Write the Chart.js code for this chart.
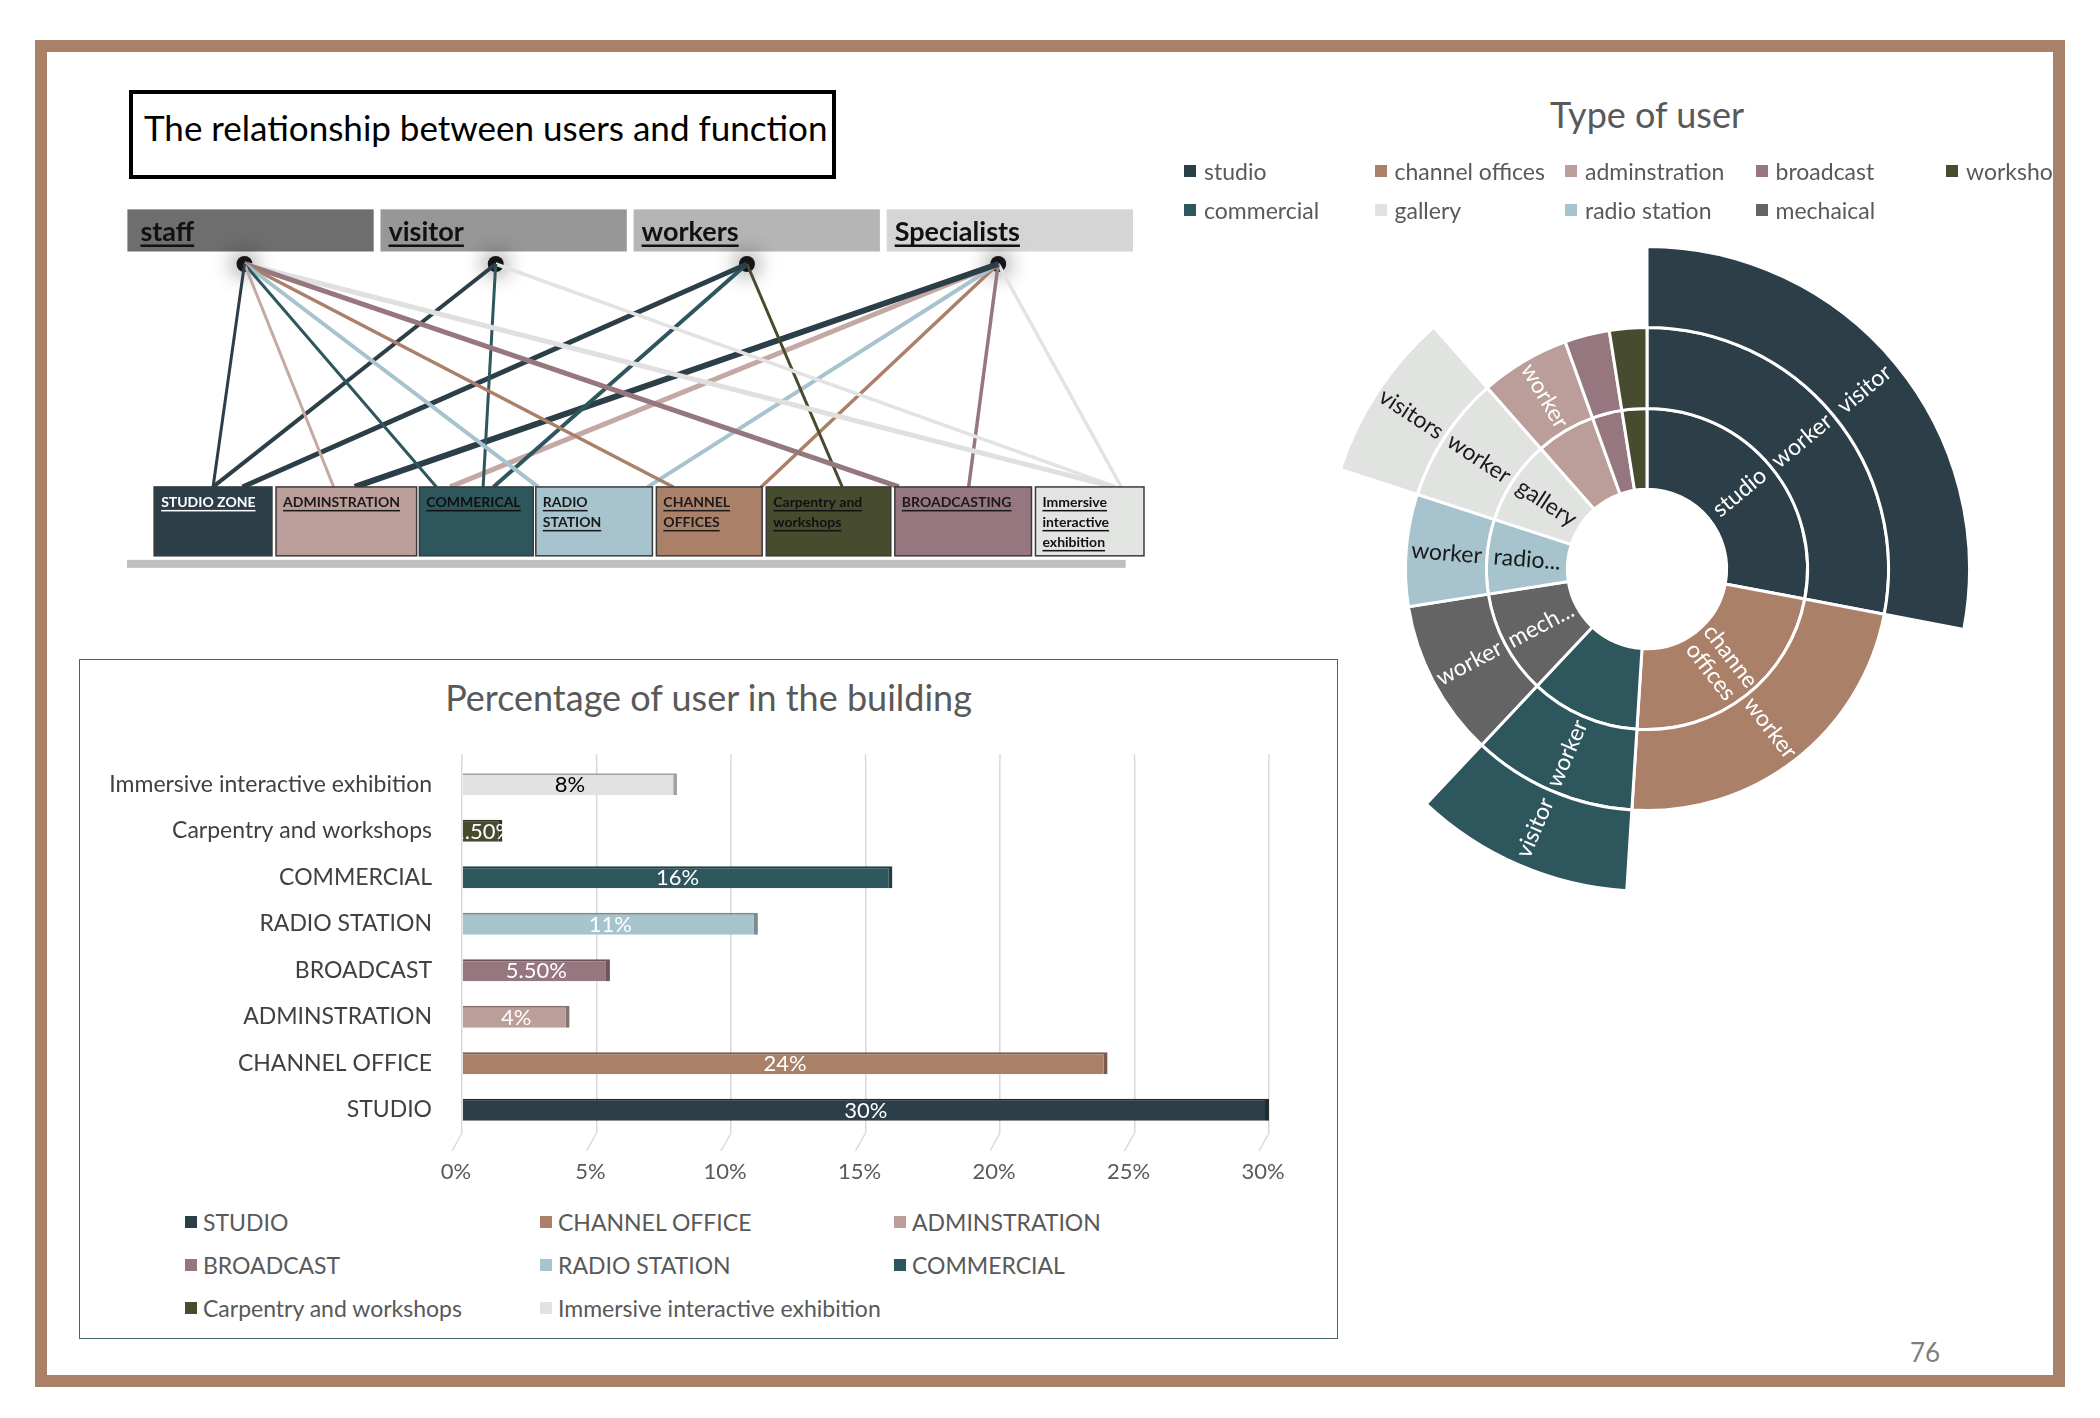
<!DOCTYPE html>
<html>
<head>
<meta charset="utf-8">
<script src="https://cdn.jsdelivr.net/npm/chart.js@4.4.0/dist/chart.umd.min.js"></script>
<style>
html,body{margin:0;padding:0;background:#fff;}
body{width:2100px;height:1418px;position:relative;overflow:hidden;font-family:Lato,"Noto Sans",sans-serif;}
.abs{position:absolute;}
#pageFrame{left:35px;top:40px;width:2030px;height:1347px;box-sizing:border-box;border:12px solid #a98169;z-index:20;pointer-events:none;}
#relTitle{left:129px;top:90px;width:707px;height:89px;box-sizing:border-box;border:4px solid #000;font-size:35px;color:#000;padding:14px 0 0 11px;white-space:nowrap;line-height:1.1;}
#barFrame{left:79px;top:659px;width:1259px;height:680px;box-sizing:border-box;border:1.5px solid #4a6572;}
#barTitle{left:79px;top:675px;width:1259px;text-align:center;font-size:36px;color:#595959;}
#sunTitle{left:1447px;top:92px;width:400px;text-align:center;font-size:36px;color:#595959;}
#sunLegendClip{left:1150px;top:140px;width:903px;height:100px;overflow:hidden;}
.leg{position:absolute;display:flex;align-items:center;font-size:23px;color:#595959;white-space:nowrap;height:28px;}
.sw{width:12px;height:12px;margin-right:8px;flex:none;}
#pageNum{left:1900px;top:1336px;width:50px;text-align:center;font-size:26px;color:#7f7f7f;}
</style>
</head>
<body>
<div id="relTitle" class="abs">The relationship between users and function</div>
<canvas id="net" class="abs" style="left:117px;top:200px;" width="1052" height="375"></canvas>

<div id="barFrame" class="abs"></div>
<div id="barTitle" class="abs">Percentage of user in the building</div>
<canvas id="bar" class="abs" style="left:79px;top:659px;" width="1259" height="534"></canvas>
<div id="barLegend" class="abs" style="left:0;top:0;"></div>

<div id="sunTitle" class="abs">Type of user</div>
<div id="sunLegendClip" class="abs"></div>
<canvas id="sun" class="abs" style="left:1317px;top:239px;" width="660" height="660"></canvas>

<div id="pageNum" class="abs">76</div>
<div id="pageFrame" class="abs"></div>

<script>
// ---------------- DATA ----------------
// Network diagram
const userGroups = ['staff', 'visitor', 'workers', 'Specialists'];
const functionBoxes = [['STUDIO ZONE'], ['ADMINSTRATION'], ['COMMERICAL'], ['RADIO', 'STATION'], ['CHANNEL', 'OFFICES'], ['Carpentry and', 'workshops'], ['BROADCASTING'], ['Immersive', 'interactive', 'exhibition']];
// [user index, function index]
const links = [[0,0],[0,1],[0,2],[0,3],[0,4],[0,6],[0,7],[1,0],[1,2],[1,7],[2,0],[2,2],[2,5],[3,1],[3,2],[3,3],[3,4],[3,6],[3,7]];

// Bar chart
const barCategories = ['STUDIO', 'CHANNEL OFFICE', 'ADMINSTRATION', 'BROADCAST', 'RADIO STATION', 'COMMERCIAL', 'Carpentry and workshops', 'Immersive interactive exhibition'];
const barValues = [30, 24, 4, 5.5, 11, 16, 1.5, 8];
const barValueLabels = ['30%', '24%', '4%', '5.50%', '11%', '16%', '1.50%', '8%'];
const barTicks = [0, 5, 10, 15, 20, 25, 30];

// Sunburst
const sunCategories = ['studio', 'channel offices', 'commercial', 'mechaical', 'radio station', 'gallery', 'adminstration', 'broadcast', 'workshop'];
const sunValues = [28, 23, 11, 10.5, 7.5, 8.5, 6, 3, 2.5];
const sunInnerLabels = ['studio', ['channe', 'offices'], '', 'mech...', 'radio...', 'gallery', '', '', ''];
const sunWorkerLabels = ['worker', 'worker', 'worker', 'worker', 'worker', 'worker', 'worker', '', ''];
const sunVisitorLabels = ['visitor', '', 'visitor', '', '', 'visitors', '', '', ''];
const sunHasVisitor = [true, false, true, false, false, true, false, false, false];
const sunLegendOrder = ['studio', 'commercial', 'channel offices', 'gallery', 'adminstration', 'radio station', 'broadcast', 'mechaical', 'workshop'];

// ---------------- STYLES / LAYOUT ----------------
const headerColors = ['#6e6e6e', '#979797', '#b5b5b5', '#d5d5d5'];
const headerStart = -0.216, headerPitch = 2.045, headerWidth = 1.99;
const nodeBase = 0.73, nodePitch = 2.03;
const boxEdges = [[0, 0.952], [0.985, 2.121], [2.143, 3.063], [3.084, 4.026], [4.058, 4.913], [4.946, 5.952], [5.985, 7.089], [7.121, 7.998]];
const boxColors = ['#2c3e48', '#bb9e99', '#2e565d', '#a7c3ce', '#ab8069', '#474c2f', '#96767f', '#e2e4e2'];
const boxTextColors = ['#ffffff', '#1a1a1a', '#111111', '#1a1a1a', '#1a1a1a', '#111111', '#1a1a1a', '#111111'];
const linkColors = ['#2c3e48','#c4a8a3','#2e565d','#a7c3ce','#ab8069','#96767f','#e0e0e0','#2c3e48','#2e565d','#e3e3e3','#2c3e48','#2e565d','#474c2f','#2c3e48','#c4a8a3','#a7c3ce','#ab8069','#96767f','#e3e3e3'];
const linkWidths = [3,3,3,4,3.5,5,5,4,3,3.5,5,4,3,6,5,4,3.5,3.5,3.5];
const linkAnchor = [0.5,0.41,0.15,0.02,0.16,0.03,0.72,0.5,0.56,0.74,0.75,0.65,0.61,0.56,0.27,0.96,0.99,0.54,0.79];

const barColors = ['#2c3e48', '#ab8069', '#bb9e99', '#96767f', '#a7c3ce', '#2e565d', '#474c2f', '#e1e3e1'];
const barLabelColors = ['#fff', '#fff', '#fff', '#fff', '#fff', '#fff', '#fff', '#000'];
const sunColors = ['#2c3e48', '#ab8069', '#2e565d', '#646464', '#a7c3ce', '#e1e3e1', '#bb9e99', '#96767f', '#474c2f'];
const sunLabelColors = ['#fff', '#fff', '#fff', '#fff', '#1a1a1a', '#1a1a1a', '#fff', '#fff', '#fff'];

function shade(hex, f) {
  const n = parseInt(hex.slice(1), 16);
  const r = Math.round(((n >> 16) & 255) * f), g = Math.round(((n >> 8) & 255) * f), b = Math.round((n & 255) * f);
  return 'rgb(' + r + ',' + g + ',' + b + ')';
}
const FONT = 'Lato, "Noto Sans", sans-serif';

// ---------------- NETWORK CHART ----------------
const nodeU = i => nodeBase + i * nodePitch;
const boxU = (j, frac) => boxEdges[j][0] + frac * (boxEdges[j][1] - boxEdges[j][0]);
const linkDatasets = links.map((l, k) => ({
  data: [{ x: nodeU(l[0]), y: 1 }, { x: boxU(l[1], linkAnchor[k]), y: 0 }],
  showLine: true, borderColor: linkColors[k], borderWidth: linkWidths[k], pointRadius: 0, clip: false
}));
const nodeIndex = linkDatasets.length;
const nodeDataset = {
  data: userGroups.map((u, i) => ({ x: nodeU(i), y: 1 })),
  pointRadius: 8, pointBackgroundColor: 'rgba(0,0,0,0.9)', pointBorderWidth: 0, showLine: false, clip: false
};

function underlinedText(ctx, text, x, y, thick, gap) {
  ctx.fillText(text, x, y);
  const w = ctx.measureText(text).width;
  ctx.fillRect(x, y + gap, w, thick);
}

const networkPlugin = {
  id: 'networkPlugin',
  beforeDatasetsDraw(chart) {
    const ctx = chart.ctx, xs = chart.scales.x, ys = chart.scales.y;
    ctx.save();
    userGroups.forEach((u, i) => {
      const s = headerStart + i * headerPitch;
      const x0 = xs.getPixelForValue(s), x1 = xs.getPixelForValue(s + headerWidth);
      const y0 = ys.getPixelForValue(1.245), y1 = ys.getPixelForValue(1.056);
      ctx.fillStyle = headerColors[i];
      ctx.fillRect(x0, y0, x1 - x0, y1 - y0);
      ctx.fillStyle = '#111';
      ctx.font = 'bold 27px ' + FONT;
      ctx.textBaseline = 'alphabetic';
      underlinedText(ctx, u, x0 + (i === 0 ? 13 : 8), y1 - 11, 2.5, 4);
    });
    const gx0 = xs.getPixelForValue(-0.22), gx1 = xs.getPixelForValue(7.85);
    const gy0 = ys.getPixelForValue(-0.327), gy1 = ys.getPixelForValue(-0.363);
    ctx.fillStyle = '#bfbfbf';
    ctx.fillRect(gx0, gy0, gx1 - gx0, gy1 - gy0);
    ctx.restore();
  },
  beforeDatasetDraw(chart, args) {
    if (args.index === nodeIndex) {
      chart.ctx.save();
      chart.ctx.shadowColor = 'rgba(0,0,0,1)';
      chart.ctx.shadowBlur = 22;
    }
  },
  afterDatasetDraw(chart, args) {
    if (args.index === nodeIndex) chart.ctx.restore();
  },
  afterDatasetsDraw(chart) {
    const ctx = chart.ctx, xs = chart.scales.x, ys = chart.scales.y;
    ctx.save();
    functionBoxes.forEach((lines, j) => {
      const x0 = xs.getPixelForValue(boxEdges[j][0]), x1 = xs.getPixelForValue(boxEdges[j][1]);
      const y0 = ys.getPixelForValue(0), y1 = ys.getPixelForValue(-0.309);
      ctx.fillStyle = boxColors[j];
      ctx.fillRect(x0, y0, x1 - x0, y1 - y0);
      ctx.strokeStyle = '#3a3a3a';
      ctx.lineWidth = 1.5;
      ctx.strokeRect(x0, y0, x1 - x0, y1 - y0);
      ctx.fillStyle = boxTextColors[j];
      ctx.font = 'bold 14px ' + FONT;
      ctx.textBaseline = 'alphabetic';
      lines.forEach((t, k) => underlinedText(ctx, t, x0 + 7, y0 + 20 + k * 20, 1.5, 3));
    });
    ctx.restore();
  }
};

new Chart(document.getElementById('net'), {
  type: 'scatter',
  data: { datasets: [...linkDatasets, nodeDataset] },
  options: {
    responsive: false, animation: false, events: [],
    layout: { padding: 0, autoPadding: false },
    plugins: { legend: { display: false }, tooltip: { enabled: false } },
    scales: {
      x: { type: 'linear', min: -0.3, max: 8.2, display: false },
      y: { type: 'linear', min: -0.395, max: 1.287, display: false }
    }
  },
  plugins: [networkPlugin]
});

// ---------------- BAR CHART ----------------
const barDecor = {
  id: 'barDecor',
  beforeDatasetsDraw(chart) {
    const ctx = chart.ctx, xs = chart.scales.x, a = chart.chartArea;
    ctx.save();
    ctx.strokeStyle = '#d9d9d9';
    ctx.lineWidth = 1.5;
    barTicks.forEach(t => {
      const px = xs.getPixelForValue(t);
      ctx.beginPath();
      ctx.moveTo(px, a.top - 7);
      ctx.lineTo(px, a.top);
      ctx.moveTo(px, a.bottom);
      ctx.lineTo(px - 10, a.bottom + 18);
      ctx.stroke();
    });
    ctx.restore();
  },
  afterDatasetsDraw(chart) {
    const ctx = chart.ctx, a = chart.chartArea;
    const meta = chart.getDatasetMeta(0);
    ctx.save();
    ctx.beginPath();
    ctx.rect(a.left, a.top, a.right - a.left + 40, a.bottom - a.top);
    ctx.clip();
    ctx.font = '22px ' + FONT;
    ctx.textAlign = 'center';
    ctx.textBaseline = 'middle';
    meta.data.forEach((el, i) => {
      ctx.fillStyle = barLabelColors[i];
      ctx.fillText(barValueLabels[i], (el.base + el.x) / 2, el.y + 1);
    });
    ctx.restore();
  }
};

new Chart(document.getElementById('bar'), {
  type: 'bar',
  data: {
    labels: barCategories,
    datasets: [{
      data: barValues,
      backgroundColor: barColors,
      borderColor: barColors.map(c => shade(c, 0.72)),
      borderWidth: { top: 2, right: 4, bottom: 0, left: 0 },
      borderSkipped: false,
      categoryPercentage: 1,
      barPercentage: 0.47
    }]
  },
  options: {
    indexAxis: 'y',
    responsive: false, animation: false, events: [],
    layout: { padding: { top: 102, right: 69, left: 0, bottom: 0 } },
    plugins: { legend: { display: false }, tooltip: { enabled: false } },
    scales: {
      x: {
        type: 'linear', min: 0, max: 30,
        afterBuildTicks: s => { s.ticks = barTicks.map(v => ({ value: v })); },
        ticks: { callback: v => v + '%', font: { family: FONT, size: 22 }, color: '#595959', padding: 26, labelOffset: -6 },
        grid: { color: '#d9d9d9', lineWidth: 1.5, drawTicks: false },
        border: { display: false },
        afterFit: s => { s.height = 60; }
      },
      y: {
        reverse: true,
        ticks: { font: { family: FONT, size: 23 }, color: '#404040', padding: 30 },
        grid: { display: false, drawTicks: false },
        border: { display: false },
        afterFit: s => { s.width = 383; }
      }
    }
  },
  plugins: [barDecor]
});

// bar legend
(function () {
  const host = document.getElementById('barLegend');
  const cols = [185, 540, 894], rows = [1222, 1265, 1308];
  barCategories.forEach((c, k) => {
    const d = document.createElement('div');
    d.className = 'leg';
    d.style.left = cols[k % 3] + 'px';
    d.style.top = (rows[Math.floor(k / 3)] - 14) + 'px';
    d.innerHTML = '<span class="sw" style="background:' + barColors[k] + ';margin-right:6px"></span>';
    d.appendChild(document.createTextNode(c));
    host.appendChild(d);
  });
})();

// ---------------- SUNBURST ----------------
const sunLabelPlugin = {
  id: 'sunLabels',
  afterDatasetsDraw(chart) {
    const ctx = chart.ctx;
    const ringLabels = [sunVisitorLabels, sunWorkerLabels, sunInnerLabels];
    ctx.save();
    ctx.font = '23px ' + FONT;
    ctx.textAlign = 'center';
    ctx.textBaseline = 'middle';
    ringLabels.forEach((labels, d) => {
      const meta = chart.getDatasetMeta(d);
      meta.data.forEach((arc, i) => {
        const lab = labels[i];
        if (!lab) return;
        const p = arc.getProps(['x', 'y', 'startAngle', 'endAngle', 'innerRadius', 'outerRadius']);
        const a = (p.startAngle + p.endAngle) / 2;
        const r = (p.innerRadius + p.outerRadius) / 2;
        const cx = p.x + r * Math.cos(a), cy = p.y + r * Math.sin(a);
        const rot = Math.cos(a) >= -0.0001 ? a : a + Math.PI;
        ctx.save();
        ctx.translate(cx, cy);
        ctx.rotate(rot);
        ctx.fillStyle = sunLabelColors[i];
        const lines = Array.isArray(lab) ? lab : [lab];
        lines.forEach((t, k) => ctx.fillText(t, 0, (k - (lines.length - 1) / 2) * 25));
        ctx.restore();
      });
    });
    ctx.restore();
  }
};

new Chart(document.getElementById('sun'), {
  type: 'doughnut',
  data: {
    labels: sunCategories,
    datasets: [
      { data: sunValues, backgroundColor: sunColors.map((c, i) => sunHasVisitor[i] ? c : 'rgba(0,0,0,0)'), borderColor: '#fff', borderWidth: sunHasVisitor.map(h => h ? 3 : 0) },
      { data: sunValues, backgroundColor: sunColors, borderColor: '#fff', borderWidth: 3 },
      { data: sunValues, backgroundColor: sunColors, borderColor: '#fff', borderWidth: 3 }
    ]
  },
  options: {
    responsive: false, animation: false, events: [],
    cutout: '24.7%',
    layout: { padding: 6 },
    plugins: { legend: { display: false }, tooltip: { enabled: false } }
  },
  plugins: [sunLabelPlugin]
});

// sunburst legend
(function () {
  const host = document.getElementById('sunLegendClip');
  sunLegendOrder.forEach((name, k) => {
    const idx = sunCategories.indexOf(name);
    const col = Math.floor(k / 2), row = k % 2;
    const d = document.createElement('div');
    d.className = 'leg';
    d.style.left = (1184 + col * 190.5 - 1150) + 'px';
    d.style.top = ([171, 210][row] - 14 - 140) + 'px';
    d.innerHTML = '<span class="sw" style="background:' + sunColors[idx] + '"></span>';
    d.appendChild(document.createTextNode(name));
    host.appendChild(d);
  });
})();
</script>
</body>
</html>
